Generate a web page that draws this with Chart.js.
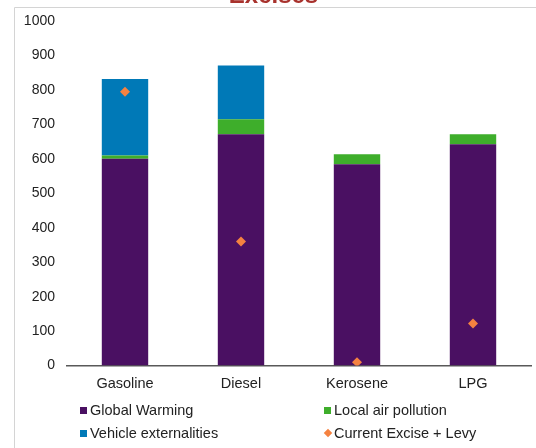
<!DOCTYPE html>
<html>
<head>
<meta charset="utf-8">
<script src="https://cdn.jsdelivr.net/npm/chart.js@4.4.1/dist/chart.umd.min.js"></script>
<style>
  html, body { margin: 0; padding: 0; background: #fff; overflow: hidden; }
  #wrap { position: relative; width: 536px; height: 448px; }
  #c { position: absolute; left: 0; top: 0; }
  .leg { position: absolute; font: 14.5px "Liberation Sans", Arial, sans-serif; color: #222; white-space: nowrap; line-height: 16px; }
  .mk { position: absolute; width: 7px; height: 7px; }
  .dm { transform: rotate(45deg); width: 6px; height: 6px; }
</style>
</head>
<body>
<div id="wrap">
  <canvas id="c" width="536" height="448"></canvas>
  <div id="legend"></div>
</div>
<script>
// Fuel categories
const categories = ['Gasoline', 'Diesel', 'Kerosene', 'LPG'];

// Externality cost components (stacked bars)
const globalWarming = [600, 671, 584, 642];
const localAirPollution = [10, 44, 29, 29];
const vehicleExternalities = [222, 156, 0, 0];

// Tax currently levied on each fuel
const currentExciseLevy = [795, 360, 10, 122];

const yTicks = [0, 100, 200, 300, 400, 500, 600, 700, 800, 900, 1000];

const colors = {
  purple: '#4A1062',
  green: '#3EAE2B',
  blue: '#0079B7',
  orange: '#F58240'
};

// Frame lines and the heading
const framePlugin = {
  id: 'frame',
  beforeDraw(chart) {
    const ctx = chart.ctx;
    ctx.save();
    ctx.fillStyle = '#fff';
    ctx.fillRect(0, 0, chart.width, chart.height);
    ctx.strokeStyle = '#D4D4D4';
    ctx.lineWidth = 1;
    ctx.beginPath();
    ctx.moveTo(14.5, chart.height);
    ctx.lineTo(14.5, 7.5);
    ctx.lineTo(chart.width, 7.5);
    ctx.stroke();
    ctx.fillStyle = '#A8322D';
    ctx.font = 'bold 24px "Liberation Sans", Arial, sans-serif';
    ctx.textAlign = 'center';
    ctx.textBaseline = 'alphabetic';
    ctx.fillText('Excises', 273.5, 3);
    ctx.restore();
  }
};

const chart = new Chart(document.getElementById('c'), {
  type: 'bar',
  data: {
    labels: categories,
    datasets: [
      {
        type: 'line',
        label: 'Current Excise + Levy',
        data: currentExciseLevy,
        showLine: false,
        pointStyle: 'rectRot',
        pointRadius: 5,
        pointHoverRadius: 5,
        backgroundColor: colors.orange,
        borderColor: colors.orange,
        borderWidth: 0,
        stack: 'excise',
        order: 0
      },
      {
        label: 'Global Warming',
        data: globalWarming,
        backgroundColor: colors.purple,
        stack: 'costs',
        order: 1
      },
      {
        label: 'Local air pollution',
        data: localAirPollution,
        backgroundColor: colors.green,
        stack: 'costs',
        order: 1
      },
      {
        label: 'Vehicle externalities',
        data: vehicleExternalities,
        backgroundColor: colors.blue,
        stack: 'costs',
        order: 1
      }
    ]
  },
  options: {
    responsive: false,
    animation: false,
    devicePixelRatio: 1,
    layout: { padding: { top: 21, left: 17, right: 0, bottom: 45 } },
    datasets: {
      bar: { categoryPercentage: 1, barPercentage: 0.4 }
    },
    plugins: {
      legend: { display: false },
      title: { display: false },
      tooltip: { enabled: false }
    },
    scales: {
      x: {
        stacked: true,
        grid: { display: false, drawTicks: false },
        border: { display: true, color: '#595959', width: 1.5 },
        ticks: {
          padding: 10,
          color: '#222',
          font: { family: '"Liberation Sans", Arial, sans-serif', size: 14.5 }
        }
      },
      y: {
        stacked: true,
        min: 0,
        max: 1000,
        afterFit(scale) { scale.width = 50; },
        afterBuildTicks(scale) { scale.ticks = yTicks.map(v => ({ value: v })); },
        grid: { display: false, drawTicks: false },
        border: { display: false },
        ticks: {
          padding: 12,
          color: '#222',
          callback: v => String(v),
          font: { family: '"Liberation Sans", Arial, sans-serif', size: 14 }
        }
      }
    }
  },
  plugins: [framePlugin]
});

// Two-column legend below the plot
const legendItems = [
  { label: 'Global Warming', color: colors.purple, x: 80, y: 410, diamond: false },
  { label: 'Local air pollution', color: colors.green, x: 324, y: 410, diamond: false },
  { label: 'Vehicle externalities', color: colors.blue, x: 80, y: 433, diamond: false },
  { label: 'Current Excise + Levy', color: colors.orange, x: 324, y: 433, diamond: true }
];
const legendEl = document.getElementById('legend');
legendItems.forEach(it => {
  const mk = document.createElement('div');
  mk.className = 'mk' + (it.diamond ? ' dm' : '');
  mk.style.background = it.color;
  mk.style.left = (it.diamond ? it.x + 0.5 : it.x) + 'px';
  mk.style.top = (it.y - 3.5) + 'px';
  legendEl.appendChild(mk);
  const tx = document.createElement('div');
  tx.className = 'leg';
  tx.textContent = it.label;
  tx.style.left = (it.x + 10) + 'px';
  tx.style.top = (it.y - 8) + 'px';
  legendEl.appendChild(tx);
});
</script>
</body>
</html>
